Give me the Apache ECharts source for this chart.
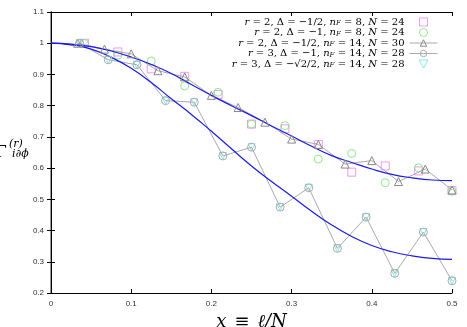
<!DOCTYPE html>
<html>
<head>
<meta charset="utf-8">
<title></title>
<script src="https://cdn.jsdelivr.net/npm/echarts@6/dist/echarts.min.js"></script>
</head>
<body style="margin:0;overflow:hidden;background:#fff">
<div id="main" style="width:467px;height:327px"></div>
<script type="text/javascript">
// x = l/N for each run
var x24 = [0.0417, 0.0833, 0.125, 0.1667, 0.2083, 0.25, 0.2917, 0.3333, 0.375, 0.4167, 0.4583, 0.5];
var x30 = [0.0333, 0.0667, 0.1, 0.1333, 0.1667, 0.2, 0.2333, 0.2667, 0.3, 0.3333, 0.3667, 0.4, 0.4333, 0.4667, 0.5];
var x28 = [0.0357, 0.0714, 0.1071, 0.1429, 0.1786, 0.2143, 0.25, 0.2857, 0.3214, 0.3571, 0.3929, 0.4286, 0.4643, 0.5];

var squaresN24 = [1.0, 0.972, 0.918, 0.894, 0.836, 0.741, 0.726, 0.676, 0.587, 0.607, 0.591, 0.528];
var circlesN24 = [0.999, 0.962, 0.943, 0.863, 0.843, 0.741, 0.736, 0.629, 0.647, 0.553, 0.601, 0.526];
var trianglesN30 = [1.0, 0.981, 0.966, 0.912, 0.892, 0.833, 0.794, 0.747, 0.693, 0.676, 0.613, 0.624, 0.557, 0.597, 0.530];
var circlesN28 = [1.0, 0.947, 0.931, 0.816, 0.811, 0.639, 0.667, 0.475, 0.537, 0.343, 0.443, 0.263, 0.395, 0.239];
var downTriN28 = [1.0, 0.947, 0.931, 0.816, 0.811, 0.639, 0.667, 0.475, 0.537, 0.343, 0.443, 0.263, 0.395, 0.239];

// the two smooth blue curves
var xCurve = [0, 0.025, 0.05, 0.075, 0.1, 0.125, 0.15, 0.175, 0.2, 0.225, 0.25, 0.275, 0.3, 0.325, 0.35, 0.375, 0.4, 0.425, 0.45, 0.475, 0.5];
var upperCurve = [1.0, 0.997, 0.989, 0.975, 0.956, 0.932, 0.903, 0.868, 0.833, 0.8, 0.768, 0.735, 0.703, 0.67, 0.64, 0.618, 0.597, 0.58, 0.569, 0.562, 0.56];
var lowerCurve = [1.0, 0.995, 0.981, 0.955, 0.92, 0.874, 0.822, 0.772, 0.718, 0.662, 0.607, 0.557, 0.51, 0.462, 0.418, 0.381, 0.352, 0.332, 0.319, 0.311, 0.308];

var xTicks = ['0', '0.1', '0.2', '0.3', '0.4', '0.5'];
var legendNames = {
	s1: '{i|r} = 2, Δ = −1/2, {i|n}{s|F} = 8, {i|N} = 24',
	s2: '{i|r} = 2, Δ = −1, {i|n}{s|F} = 8, {i|N} = 24',
	s3: '{i|r} = 2, Δ = −1/2, {i|n}{s|F} = 14, {i|N} = 30',
	s4: '{i|r} = 3, Δ = −1, {i|n}{s|F} = 14, {i|N} = 28',
	s5: '{i|r} = 3, Δ = −√2/2, {i|n}{s|F} = 14, {i|N} = 28'
};

function pairs(xs, ys) {
	return xs.map(function (x, i) { return [x, ys[i]]; });
}

var myChart = echarts.init(document.getElementById('main'));
var hollow = 'rgba(0,0,0,0)';
var serif = '"DejaVu Serif", "Liberation Serif", serif';
var sans = '"Liberation Sans", Arial, sans-serif';

function frameX(pos, showLabel, lineColor) {
	return {
		type: 'value', position: pos, min: 0, max: 0.5, interval: 0.1,
		axisLine: { show: true, lineStyle: { color: lineColor, width: 1 } },
		axisTick: { show: true, inside: true, length: 4, lineStyle: { color: '#000' } },
		axisLabel: {
			show: showLabel, color: '#333', fontSize: 8, fontFamily: sans, margin: 7,
			formatter: function (v) { return xTicks[Math.round(v * 10)]; }
		},
		splitLine: { show: false }
	};
}
function frameY(pos, showLabel, lineColor, w) {
	return {
		type: 'value', position: pos, min: 0.2, max: 1.1, interval: 0.1,
		axisLine: { show: true, lineStyle: { color: lineColor, width: w } },
		axisTick: { show: true, inside: true, length: 4, lineStyle: { color: '#000' } },
		axisLabel: { show: showLabel, color: '#333', fontSize: 8, fontFamily: sans, margin: 7 },
		splitLine: { show: false }
	};
}

var xMain = frameX('bottom', true, '#000');
xMain.name = '{i|x}{e|≡}{i|ℓ/N}';
xMain.nameLocation = 'middle';
xMain.nameGap = 15;
xMain.nameTextStyle = {
	fontFamily: serif, fontSize: 18, color: '#000',
	rich: {
		i: { fontFamily: serif, fontSize: 18, fontStyle: 'italic', color: '#000' },
		e: { fontFamily: serif, fontSize: 18, color: '#000', padding: [0, 8, 0, 8] }
	}
};

var option = {
	animation: false,
	backgroundColor: '#fff',
	grid: { left: 51, right: 15, top: 12, bottom: 34, containLabel: false, outerBoundsMode: 'none' },
	xAxis: [xMain, frameX('top', false, '#000')],
	yAxis: [frameY('left', true, '#777', 1.5), frameY('right', false, '#000', 1)],
	legend: {
		orient: 'vertical', align: 'right', right: 29, top: 17, padding: 0,
		itemWidth: 28, itemHeight: 8, itemGap: 0.5,
		itemStyle: { borderWidth: 1 },
		lineStyle: { width: 1 },
		data: [
			{ name: 's1', icon: 'path://M0,0L10,0L10,10L0,10Z' },
			{ name: 's2', icon: 'circle' },
			{ name: 's3' },
			{ name: 's4' },
			{ name: 's5', icon: 'path://M0,0L10,0L5,9Z' }
		],
		formatter: function (name) { return legendNames[name]; },
		textStyle: {
			fontFamily: serif, fontSize: 10, color: '#000', lineHeight: 10,
			rich: {
				i: { fontFamily: serif, fontSize: 10, fontStyle: 'italic', color: '#000', lineHeight: 10 },
				s: { fontFamily: serif, fontSize: 7, fontStyle: 'italic', color: '#000', lineHeight: 6, verticalAlign: 'bottom' }
			}
		}
	},
	graphic: [
		{ type: 'text', left: -5, top: 144, style: { text: 'Γ', font: '17px ' + serif, fill: '#000' } },
		{ type: 'text', left: 9, top: 139, style: { text: '(r)', font: 'italic 11px ' + serif, fill: '#000' } },
		{ type: 'text', left: 12, top: 149, style: { text: 'i∂ϕ', font: 'italic 11px ' + serif, fill: '#000' } }
	],
	series: [
		{
			name: 's1', type: 'scatter', symbol: 'rect', symbolSize: 8,
			itemStyle: { color: hollow, borderColor: '#f07ef0', borderWidth: 1 },
			data: pairs(x24, squaresN24)
		},
		{
			name: 's2', type: 'scatter', symbol: 'circle', symbolSize: 8,
			itemStyle: { color: hollow, borderColor: '#6fe86f', borderWidth: 1 },
			data: pairs(x24, circlesN24)
		},
		{
			name: 's3', type: 'line', symbol: 'triangle', symbolSize: 8, showAllSymbol: true,
			itemStyle: { color: hollow, borderColor: '#888', borderWidth: 1 },
			lineStyle: { color: '#aaa', width: 1 },
			data: pairs(x30, trianglesN30)
		},
		{
			name: 's4', type: 'line', symbol: 'circle', symbolSize: 8, showAllSymbol: true,
			itemStyle: { color: hollow, borderColor: '#aaa', borderWidth: 1 },
			lineStyle: { color: '#aaa', width: 1 },
			data: pairs(x28, circlesN28)
		},
		{
			name: 's5', type: 'scatter', symbol: 'triangle', symbolRotate: 180, symbolSize: 7,
			itemStyle: { color: hollow, borderColor: '#5fe6e6', borderWidth: 1 },
			data: pairs(x28, downTriN28)
		},
		{
			name: 'upper', type: 'line', smooth: true, showSymbol: false, symbol: 'none',
			lineStyle: { color: '#1a1aee', width: 1.2 },
			data: pairs(xCurve, upperCurve)
		},
		{
			name: 'lower', type: 'line', smooth: true, showSymbol: false, symbol: 'none',
			lineStyle: { color: '#1a1aee', width: 1.2 },
			data: pairs(xCurve, lowerCurve)
		}
	]
};
myChart.setOption(option);
</script>
</body>
</html>
